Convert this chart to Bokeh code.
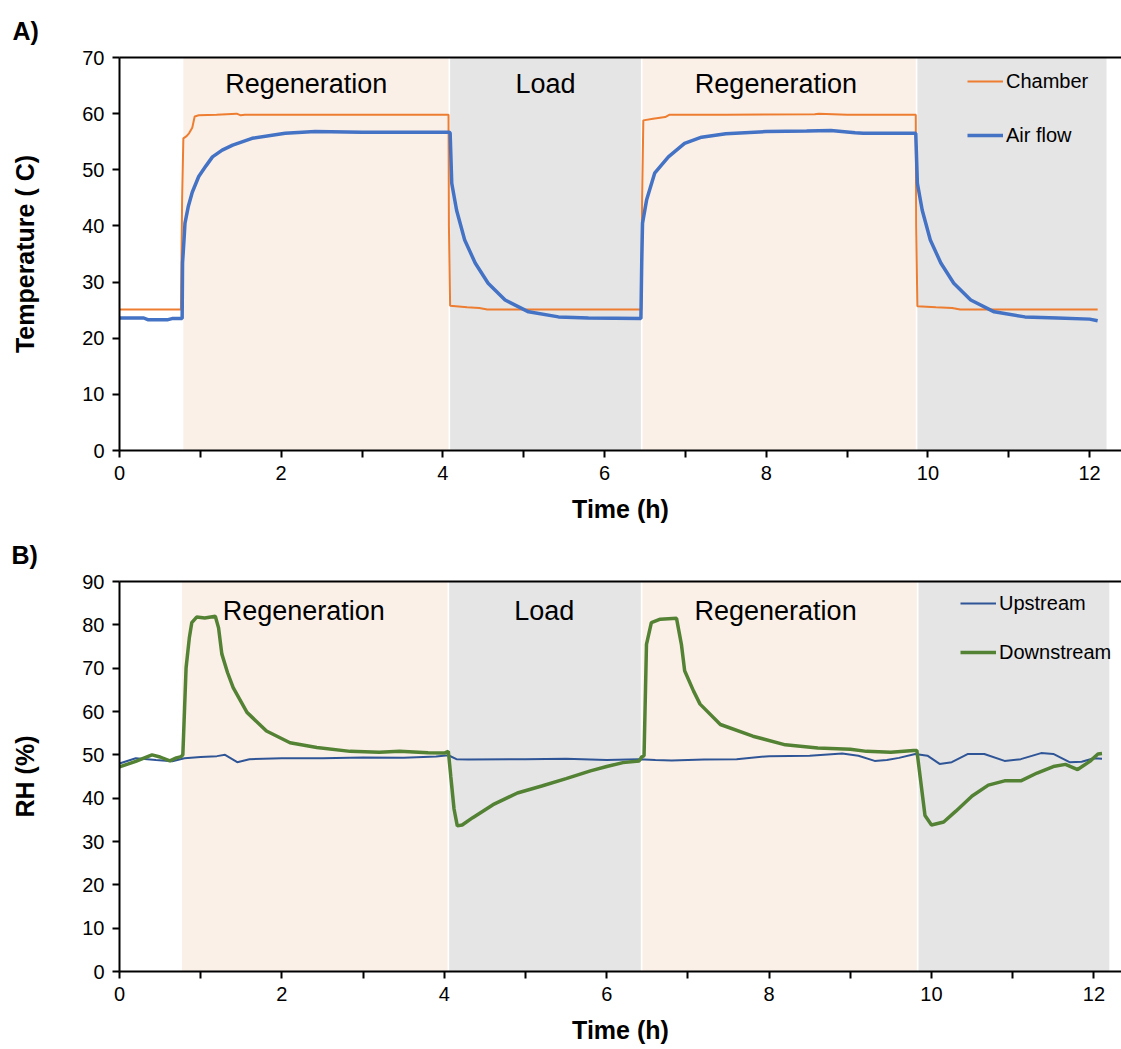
from bokeh.plotting import figure
from bokeh.models import (Range1d, FixedTicker, LinearAxis, Legend, LegendItem)
from bokeh.layouts import column
from bokeh.embed import file_html
from bokeh.resources import INLINE
from bokeh.core.properties import value

FONT = "Liberation Sans"

# ---------------- Panel A data: temperature ----------------
chamber_t = [0.0, 0.76, 0.775, 0.79, 0.83, 0.86, 0.88, 0.90, 0.93, 0.98,
             1.2, 1.45, 1.5, 1.55, 2.0, 3.0, 4.07, 4.075, 4.09, 4.3,
             4.45, 4.55, 5.0, 6.0, 6.455, 6.465, 6.48, 6.6, 6.75, 6.8,
             7.5, 8.6, 8.65, 9.0, 9.85, 9.855, 9.87, 10.1, 10.3, 10.4,
             11.0, 12.1]
chamber_v = [25.1, 25.1, 45.0, 55.6, 56.0, 56.5, 57.0, 57.5, 59.5, 59.7,
             59.8, 60.0, 59.7, 59.8, 59.8, 59.8, 59.8, 40.0, 25.8, 25.5,
             25.4, 25.1, 25.1, 25.1, 25.1, 45.0, 58.8, 59.1, 59.4, 59.8,
             59.8, 59.9, 60.0, 59.8, 59.8, 40.0, 25.7, 25.5, 25.4, 25.1,
             25.1, 25.1]

air_t = [0.0, 0.30, 0.35, 0.60, 0.65, 0.775, 0.78, 0.80, 0.81, 0.85,
         0.90, 0.98, 1.07, 1.15, 1.27, 1.40, 1.64, 2.05, 2.42, 3.0,
         4.07, 4.09, 4.11, 4.17, 4.27, 4.40, 4.56, 4.77, 5.06, 5.43,
         5.80, 6.45, 6.46, 6.47, 6.52, 6.62, 6.79, 6.99, 7.20, 7.5,
         8.0, 8.5, 8.8, 9.1, 9.2, 9.85, 9.87, 9.93, 10.03, 10.16,
         10.32, 10.53, 10.82, 11.2, 11.6, 12.0, 12.1]
air_v = [23.6, 23.6, 23.3, 23.3, 23.5, 23.5, 33.4, 38.0, 40.5, 43.4,
         46.0, 48.8, 50.7, 52.3, 53.5, 54.4, 55.6, 56.5, 56.8, 56.7,
         56.7, 56.6, 47.6, 42.8, 37.5, 33.4, 29.8, 26.8, 24.7, 23.8,
         23.6, 23.5, 33.4, 40.5, 44.6, 49.4, 52.3, 54.7, 55.8, 56.4,
         56.8, 56.9, 57.0, 56.6, 56.5, 56.5, 47.6, 42.8, 37.5, 33.4,
         29.8, 26.8, 24.7, 23.8, 23.6, 23.4, 23.1]

a_regen_start = [0.79, 6.47]
a_regen_end = [4.07, 9.85]
a_load_start = [4.09, 9.87]
a_load_end = [6.45, 12.21]
a_label_t = [2.31, 5.27, 8.12]
a_label_y = [65.3, 65.3, 65.3]
phase_labels = ["Regeneration", "Load", "Regeneration"]

# ---------------- Panel B data: relative humidity ----------------
up_t = [0.0, 0.2, 0.45, 0.65, 0.8, 1.0, 1.2, 1.3, 1.45, 1.6,
        2.0, 2.5, 3.0, 3.5, 3.9, 4.05, 4.15, 4.3, 5.0, 5.5,
        6.0, 6.4, 6.6, 6.8, 7.2, 7.6, 8.0, 8.5, 8.9, 9.1,
        9.3, 9.45, 9.6, 9.8, 9.95, 10.1, 10.25, 10.45, 10.65, 10.9,
        11.1, 11.35, 11.5, 11.7, 11.85, 12.0, 12.1]
up_v = [48.0, 49.2, 48.8, 48.5, 49.2, 49.5, 49.7, 50.0, 48.3, 49.0,
        49.2, 49.2, 49.4, 49.3, 49.6, 49.9, 49.0, 48.9, 49.0, 49.1,
        48.8, 49.0, 48.8, 48.7, 48.9, 49.0, 49.7, 49.8, 50.3, 49.8,
        48.6, 48.8, 49.3, 50.2, 49.8, 47.9, 48.3, 50.2, 50.2, 48.6,
        49.0, 50.4, 50.2, 48.3, 48.4, 49.2, 49.1]

dn_t = [0.0, 0.2, 0.40, 0.5, 0.62, 0.70, 0.76, 0.78, 0.82, 0.86,
        0.89, 0.95, 1.05, 1.18, 1.22, 1.26, 1.33, 1.40, 1.57, 1.81,
        2.10, 2.43, 2.84, 3.2, 3.45, 3.8, 4.0, 4.05, 4.08, 4.12,
        4.16, 4.22, 4.35, 4.6, 4.9, 5.2, 5.5, 5.8, 6.0, 6.2,
        6.40, 6.43, 6.46, 6.49, 6.55, 6.66, 6.86, 6.92, 6.96, 7.07,
        7.15, 7.4, 7.8, 8.2, 8.6, 9.0, 9.2, 9.5, 9.78, 9.82,
        9.86, 9.92, 10.0, 10.15, 10.3, 10.5, 10.7, 10.9, 11.1, 11.3,
        11.5, 11.65, 11.8, 11.95, 12.05, 12.1]
dn_v = [47.2, 48.5, 50.0, 49.5, 48.6, 49.3, 49.6, 50.0, 70.1, 77.0,
        80.5, 81.8, 81.6, 82.0, 79.3, 73.3, 69.0, 65.5, 59.8, 55.5,
        52.8, 51.7, 50.8, 50.6, 50.8, 50.5, 50.4, 50.8, 45.0, 37.5,
        33.6, 33.8, 35.5, 38.5, 41.2, 42.8, 44.5, 46.3, 47.3, 48.2,
        48.6, 49.5, 49.8, 75.5, 80.5, 81.3, 81.5, 75.5, 69.4, 64.7,
        61.7, 57.0, 54.3, 52.3, 51.6, 51.3, 50.8, 50.6, 51.0, 51.0,
        45.0, 36.0, 33.8, 34.5, 37.0, 40.5, 43.0, 44.0, 44.0, 45.8,
        47.3, 47.8, 46.6, 48.5, 50.2, 50.3]

b_regen_start = [0.77, 6.44]
b_regen_end = [4.04, 9.82]
b_load_start = [4.06, 9.84]
b_load_end = [6.42, 12.19]
b_label_t = [2.27, 5.23, 8.08]
b_label_y = [83.2, 83.2, 83.2]

x_major = [0, 2, 4, 6, 8, 10, 12]
x_minor = [1, 3, 5, 7, 9, 11]

REGEN = "#FBF0E7"
LOAD = "#E5E5E5"


def make_panel(height, left, top, bottom, xmax, ymax, yticks, ylabel, tag, tag_offset):
    p = figure(width=1121, height=height, output_backend="svg", toolbar_location=None,
               x_range=Range1d(0, xmax), y_range=Range1d(0, ymax),
               min_border_left=left, min_border_right=0,
               min_border_top=top, min_border_bottom=bottom,
               title=tag)
    p.title.align = "left"
    p.title.offset = tag_offset
    p.title.standoff = 26
    p.title.text_line_height = 0.9
    p.title.text_font = FONT
    p.title.text_font_size = "25px"
    p.title.text_font_style = "bold"
    p.title.text_color = "black"
    p.outline_line_color = None
    p.xgrid.visible = False
    p.ygrid.visible = False
    p.background_fill_color = "white"

    xa = p.xaxis[0]
    xa.ticker = FixedTicker(ticks=x_major, minor_ticks=x_minor)
    ya = p.yaxis[0]
    ya.ticker = FixedTicker(ticks=yticks, minor_ticks=[])
    for ax in (xa, ya):
        ax.axis_line_width = 2
        ax.axis_line_color = "black"
        ax.major_tick_line_width = 2
        ax.major_tick_line_color = "black"
        ax.minor_tick_line_width = 2
        ax.minor_tick_line_color = "black"
        ax.major_tick_in = 0
        ax.major_tick_out = 7
        ax.minor_tick_in = 0
        ax.minor_tick_out = 7
        ax.major_label_text_font = FONT
        ax.major_label_text_font_size = "20px"
        ax.major_label_text_color = "black"
        ax.axis_label_text_font = FONT
        ax.axis_label_text_font_size = "25px"
        ax.axis_label_text_font_style = "bold"
        ax.axis_label_text_color = "black"
    xa.axis_label = "Time (h)"
    xa.major_label_standoff = 8
    xa.axis_label_standoff = 12
    ya.axis_label = ylabel
    ya.major_label_standoff = 8
    ya.axis_label_standoff = 40

    top_ax = LinearAxis(ticker=FixedTicker(ticks=[]), axis_line_width=2,
                        axis_line_color="black", major_tick_line_color=None,
                        minor_tick_line_color=None, major_label_text_font_size="0px")
    p.add_layout(top_ax, "above")
    return p


def style_legend(lg, loc, spacing):
    lg.location = loc
    lg.background_fill_alpha = 0
    lg.border_line_color = None
    lg.glyph_width = 36
    lg.glyph_height = 24
    lg.label_height = 24
    lg.label_standoff = 3
    lg.label_text_font = FONT
    lg.label_text_font_size = "20px"
    lg.label_text_color = "black"
    lg.spacing = spacing
    lg.padding = 0
    lg.margin = 0


# ---------------- Panel A ----------------
pa = make_panel(525, 117, 57, 74, 12.395, 70, list(range(0, 71, 10)),
                "Temperature ( C)", "A)", -107)
pa.quad(left=a_regen_start, right=a_regen_end, bottom=0, top=70, fill_color=REGEN, line_color=None)
pa.quad(left=a_load_start, right=a_load_end, bottom=0, top=70, fill_color=LOAD, line_color=None)
pa.text(x=a_label_t, y=a_label_y, text=phase_labels, text_font=value(FONT),
        text_font_size="27px", text_align="center", text_baseline="alphabetic", text_color="black")
r_ch = pa.line(chamber_t, chamber_v, line_color="#ED7D31", line_width=2)
r_air = pa.line(air_t, air_v, line_color="#4472C4", line_width=3.5)
lga = Legend(items=[LegendItem(label="Chamber", renderers=[r_ch]),
                    LegendItem(label="Air flow", renderers=[r_air])])
style_legend(lga, (848, 303), 30)
pa.add_layout(lga)

# ---------------- Panel B ----------------
pb = make_panel(524, 119, 55, 78, 12.34, 90, list(range(0, 91, 10)),
                "RH (%)", "B)", -108)
pb.quad(left=b_regen_start, right=b_regen_end, bottom=0, top=90, fill_color=REGEN, line_color=None)
pb.quad(left=b_load_start, right=b_load_end, bottom=0, top=90, fill_color=LOAD, line_color=None)
pb.text(x=b_label_t, y=b_label_y, text=phase_labels, text_font=value(FONT),
        text_font_size="27px", text_align="center", text_baseline="alphabetic", text_color="black")
r_up = pb.line(up_t, up_v, line_color="#2F5597", line_width=2)
r_dn = pb.line(dn_t, dn_v, line_color="#548235", line_width=3.5)
lgb = Legend(items=[LegendItem(label="Upstream", renderers=[r_up]),
                    LegendItem(label="Downstream", renderers=[r_dn])])
style_legend(lgb, (841, 307), 25)
pb.add_layout(lgb)

layout = column(pa, pb, spacing=0)
open("out.html", "w").write(file_html(layout, INLINE))
